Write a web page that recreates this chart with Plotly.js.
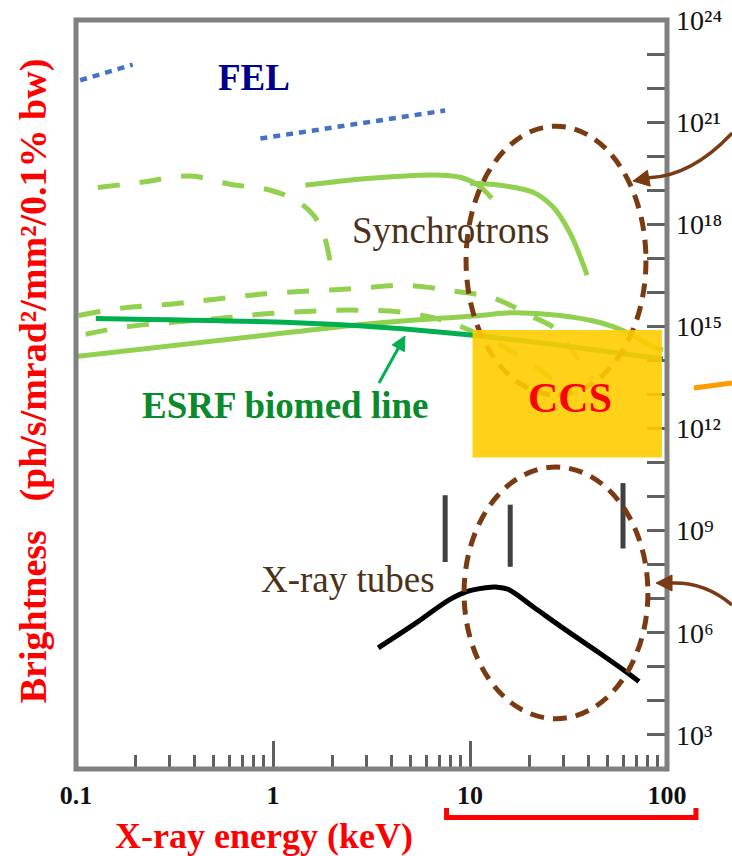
<!DOCTYPE html>
<html><head><meta charset="utf-8">
<script src="https://cdn.plot.ly/plotly-3.0.1.min.js"></script>
<style>html,body{margin:0;padding:0;background:#fff;} #chart{width:732px;height:856px;}</style>
</head><body><div id="chart"></div>
<script>
// ---- data (x: X-ray energy in keV, y: brightness) ----
const felLowX = [0.105, 0.194];
const felLowY = [1.7e22, 4.9e22];
const felHighX = [0.863, 7.48];
const felHighY = [3.3e20, 2.2e21];

const synAX = [0.129, 0.212, 0.381, 0.607, 0.968, 1.30, 1.60, 1.80, 1.95];
const synAY = [1.2e19, 1.7e19, 2.6e19, 1.5e19, 1.0e19, 5.1e18, 1.9e18, 5.5e17, 7.8e16];
const synB1X = [1.46, 3.01, 6.50, 8.91, 11.0, 12.9];
const synB1Y = [1.4e19, 2.2e19, 2.8e19, 2.4e19, 1.4e19, 5.8e18];
const synB2X = [10.0, 14.2, 20.9, 26.4, 32.2, 39.3];
const synB2Y = [1.6e19, 1.4e19, 8.7e18, 3.2e18, 5.5e17, 3.2e16];
const synEX = [0.103, 0.174, 0.301, 0.510, 0.883, 1.55, 2.68, 4.69, 8.21, 13.1, 20.2, 27.7, 33.3, 41.6];
const synEY = [2.1e15, 3.5e15, 4.5e15, 6.3e15, 8.9e15, 1.1e16, 1.3e16, 1.6e16, 1.1e16, 6.8e15, 2.1e15, 7.8e14, 1.8e14, 2.7e13];
const synFX = [0.112, 0.174, 0.301, 0.522, 0.883, 1.55, 2.71, 4.80, 7.93, 15.2, 20.9, 28.6];
const synFY = [5.9e14, 9.5e14, 1.3e15, 1.7e15, 2.3e15, 2.8e15, 3.0e15, 2.5e15, 1.3e15, 2.3e14, 7.4e13, 1.9e13];
const synDX = [0.1, 1.22, 3.11, 11.2, 16.0, 28.6, 45.7, 62.7, 81.9, 95.3];
const synDY = [1.3e14, 6.7e14, 1.2e15, 2.1e15, 2.5e15, 2.1e15, 1.3e15, 6.7e14, 2.8e14, 2.0e14];

const esrfX = [0.126, 1.22, 3.50, 10.4, 28.6, 95.3];
const esrfY = [1.7e15, 1.3e15, 9.5e14, 5.5e14, 2.8e14, 1.1e14];

const tubeX = [3.42, 5.33, 7.84, 9.55, 12.0, 13.6, 15.6, 20.9, 30.7, 45.2, 61.9, 72.1];
const tubeY = [3.6e5, 1.95e6, 9.3e6, 1.6e7, 2.1e7, 2.2e7, 1.9e7, 5.8e6, 1.2e6, 2.6e5, 7.2e4, 3.7e4];

const tubeLineX = [7.48, 16.0, 59.8];
const tubeLineTop = [1.1e10, 5.8e9, 2.5e10];
const tubeLineBottom = [1.2e8, 8.7e7, 3.0e8];

const ccsX = [10.3, 94.2];
const ccsY = [1.4e11, 7.8e14];
const ellipseUpX = [9.55, 78.2];
const ellipseUpY = [9.8e12, 7.6e20];
const ellipseLowX = [9.33, 80.0];
const ellipseLowY = [3.0e3, 7.4e10];

const xTickVals = [0.1, 1, 10, 100];
const xTickText = ['0.1', '1', '10', '100'];
const xMinorVals = [0.2,0.3,0.4,0.5,0.6,0.7,0.8,0.9,2,3,4,5,6,7,8,9,20,30,40,50,60,70,80,90];
const yTickVals = [1e3, 1e6, 1e9, 1e12, 1e15, 1e18, 1e21, 1e24];
const yTickText = ['10\u00b3','10\u2076','10\u2079','10\u00b9\u00b2','10\u00b9\u2075','10\u00b9\u2078','10\u00b2\u00b9','10\u00b2\u2074'];
const yMinorVals = [1e4,1e5,1e7,1e8,1e10,1e11,1e13,1e14,1e16,1e17,1e19,1e20,1e22,1e23];

// ---- styles ----
const SERIF = 'Liberation Serif, DejaVu Serif, serif';
const LG = '#92D050';
const felLine = {color:'#4472C4', width:4.5, dash:'7px,6px'};
const synDash = {color:LG, width:5, dash:'22px,20px', shape:'spline', smoothing:1};
const synSolid = {color:LG, width:5, shape:'spline', smoothing:1};

function tr(x, y, line){ return {x:x, y:y, type:'scatter', mode:'lines', line:line, hoverinfo:'skip', showlegend:false}; }

const traces = [
  tr(felLowX, felLowY, felLine),
  tr(felHighX, felHighY, felLine),
  tr(synAX, synAY, synDash),
  tr(synB1X, synB1Y, synSolid),
  tr(synB2X, synB2Y, synSolid),
  tr(synEX, synEY, synDash),
  tr(synFX, synFY, synDash),
  tr(synDX, synDY, synSolid),
  tr(esrfX, esrfY, {color:'#00B050', width:5, shape:'spline', smoothing:0.6}),
  tr(tubeX, tubeY, {color:'#000000', width:5, shape:'spline', smoothing:1})
];
tubeLineX.forEach((xv, i) => {
  traces.push(tr([xv, xv], [tubeLineBottom[i], tubeLineTop[i]], {color:'#404040', width:5}));
});

const brown = '#7A3B12';
const shapes = [
  {type:'circle', xref:'x', yref:'y', x0:ellipseUpX[0], x1:ellipseUpX[1], y0:ellipseUpY[0], y1:ellipseUpY[1],
   line:{color:brown, width:5, dash:'14px,9px'}, layer:'above'},
  {type:'circle', xref:'x', yref:'y', x0:ellipseLowX[0], x1:ellipseLowX[1], y0:ellipseLowY[0], y1:ellipseLowY[1],
   line:{color:brown, width:5, dash:'14px,9px'}, layer:'above'},
  {type:'rect', xref:'x', yref:'y', x0:ccsX[0], x1:ccsX[1], y0:ccsY[0], y1:ccsY[1],
   fillcolor:'rgb(255,204,0)', opacity:0.9, line:{width:0}, layer:'above'},
  // frame
  {type:'rect', xref:'paper', yref:'paper', x0:0, x1:1, y0:0, y1:1, line:{color:'#808080', width:5}, layer:'above'},
  // green arrow (ESRF biomed line pointer)
  {type:'path', xref:'paper', yref:'paper', path:'M 0.5127 0.5154 L 0.5452 0.5617', line:{color:'#00B050', width:3}},
  {type:'path', xref:'paper', yref:'paper', path:'M 0.5567 0.5781 L 0.5555 0.5571 L 0.5349 0.5662 Z', fillcolor:'#00B050', line:{color:'#00B050', width:1}},
  // curved brown arrows from the right
  {type:'path', xref:'paper', yref:'paper', path:'M 1.110 0.849 Q 1.042 0.792 0.9692 0.7894', line:{color:brown, width:3.5}},
  {type:'path', xref:'paper', yref:'paper', path:'M 0.9425 0.7850 L 0.9716 0.7782 L 0.9668 0.7993 Z', fillcolor:brown, line:{color:brown, width:1}},
  {type:'path', xref:'paper', yref:'paper', path:'M 1.110 0.219 Q 1.0643 0.2497 1.0085 0.2483', line:{color:brown, width:3.5}},
  {type:'path', xref:'paper', yref:'paper', path:'M 0.9814 0.2483 L 1.0085 0.2590 L 1.0085 0.2377 Z', fillcolor:brown, line:{color:brown, width:1}},
  // orange stub
  {type:'line', xref:'paper', yref:'paper', x0:1.0457, y0:0.5087, x1:1.110, y1:0.5154, line:{color:'#FF9900', width:5}},
  // red bracket under 10-100 keV
  {type:'path', xref:'paper', yref:'paper', path:'M 0.627 -0.052 L 0.627 -0.0647 L 1.049 -0.0647 L 1.049 -0.052', line:{color:'#FF0000', width:5}}
];

const L = Math.log10;
const annotations = [
  {xref:'x', yref:'y', x:L(0.80), y:22.31, text:'FEL', showarrow:false, font:{family:SERIF, size:37, color:'#00008B', weight:'bold'}},
  {xref:'x', yref:'y', x:0.899, y:17.83, text:'Synchrotrons', showarrow:false, font:{family:SERIF, size:37, color:'#4B3218'}},
  {xref:'x', yref:'y', x:0.062, y:12.69, text:'ESRF biomed line', showarrow:false, font:{family:SERIF, size:37, color:'#0A8A2A', weight:'bold'}},
  {xref:'x', yref:'y', x:0.382, y:7.56, text:'X-ray tubes', showarrow:false, font:{family:SERIF, size:37, color:'#4B3218'}},
  {xref:'x', yref:'y', x:1.508, y:12.90, text:'CCS', showarrow:false, font:{family:SERIF, size:42, color:'#FF0000', weight:'bold'}},
  {xref:'paper', yref:'paper', x:0.318, y:-0.0895, xanchor:'center', yanchor:'middle', text:'X-ray energy (keV)', showarrow:false,
   font:{family:SERIF, size:36, color:'#FF0000', weight:'bold'}},
  {xref:'paper', yref:'paper', x:-0.0728, y:0.519, xanchor:'center', yanchor:'middle', textangle:-90,
   text:'Brightness\u00a0\u00a0\u00a0(ph/s/mrad\u00b2/mm\u00b2/0.1% bw)', showarrow:false,
   font:{family:SERIF, size:38, color:'#FF0000', weight:'bold'}}
];

const layout = {
  width:732, height:856,
  margin:{l:76, r:65, t:20, b:87, pad:0},
  paper_bgcolor:'#ffffff', plot_bgcolor:'#ffffff',
  showlegend:false,
  font:{family:SERIF, color:'#000'},
  xaxis:{type:'log', range:[-1, 2], showgrid:false, zeroline:false, showline:false,
    tickmode:'array', tickvals:xTickVals, ticktext:xTickText,
    ticks:'inside', ticklen:28, tickwidth:3, tickcolor:'#606060',
    tickfont:{family:SERIF, size:26, color:'#111', weight:'bold'},
    ticklabelstandoff:8,
    minor:{tickmode:'array', tickvals:xMinorVals, ticks:'inside', ticklen:14, tickwidth:3, tickcolor:'#606060', showgrid:false}
  },
  yaxis:{type:'log', range:[2, 24], side:'right', showgrid:false, zeroline:false, showline:false,
    tickmode:'array', tickvals:yTickVals, ticktext:yTickText,
    ticks:'inside', ticklen:20, tickwidth:3, tickcolor:'#606060',
    tickfont:{family:SERIF, size:28, color:'#111'},
    ticklabelstandoff:8,
    minor:{tickmode:'array', tickvals:yMinorVals, ticks:'inside', ticklen:20, tickwidth:3, tickcolor:'#606060', showgrid:false}
  },
  shapes:shapes,
  annotations:annotations
};

Plotly.newPlot('chart', traces, layout, {staticPlot:true, displayModeBar:false});
</script></body></html>
